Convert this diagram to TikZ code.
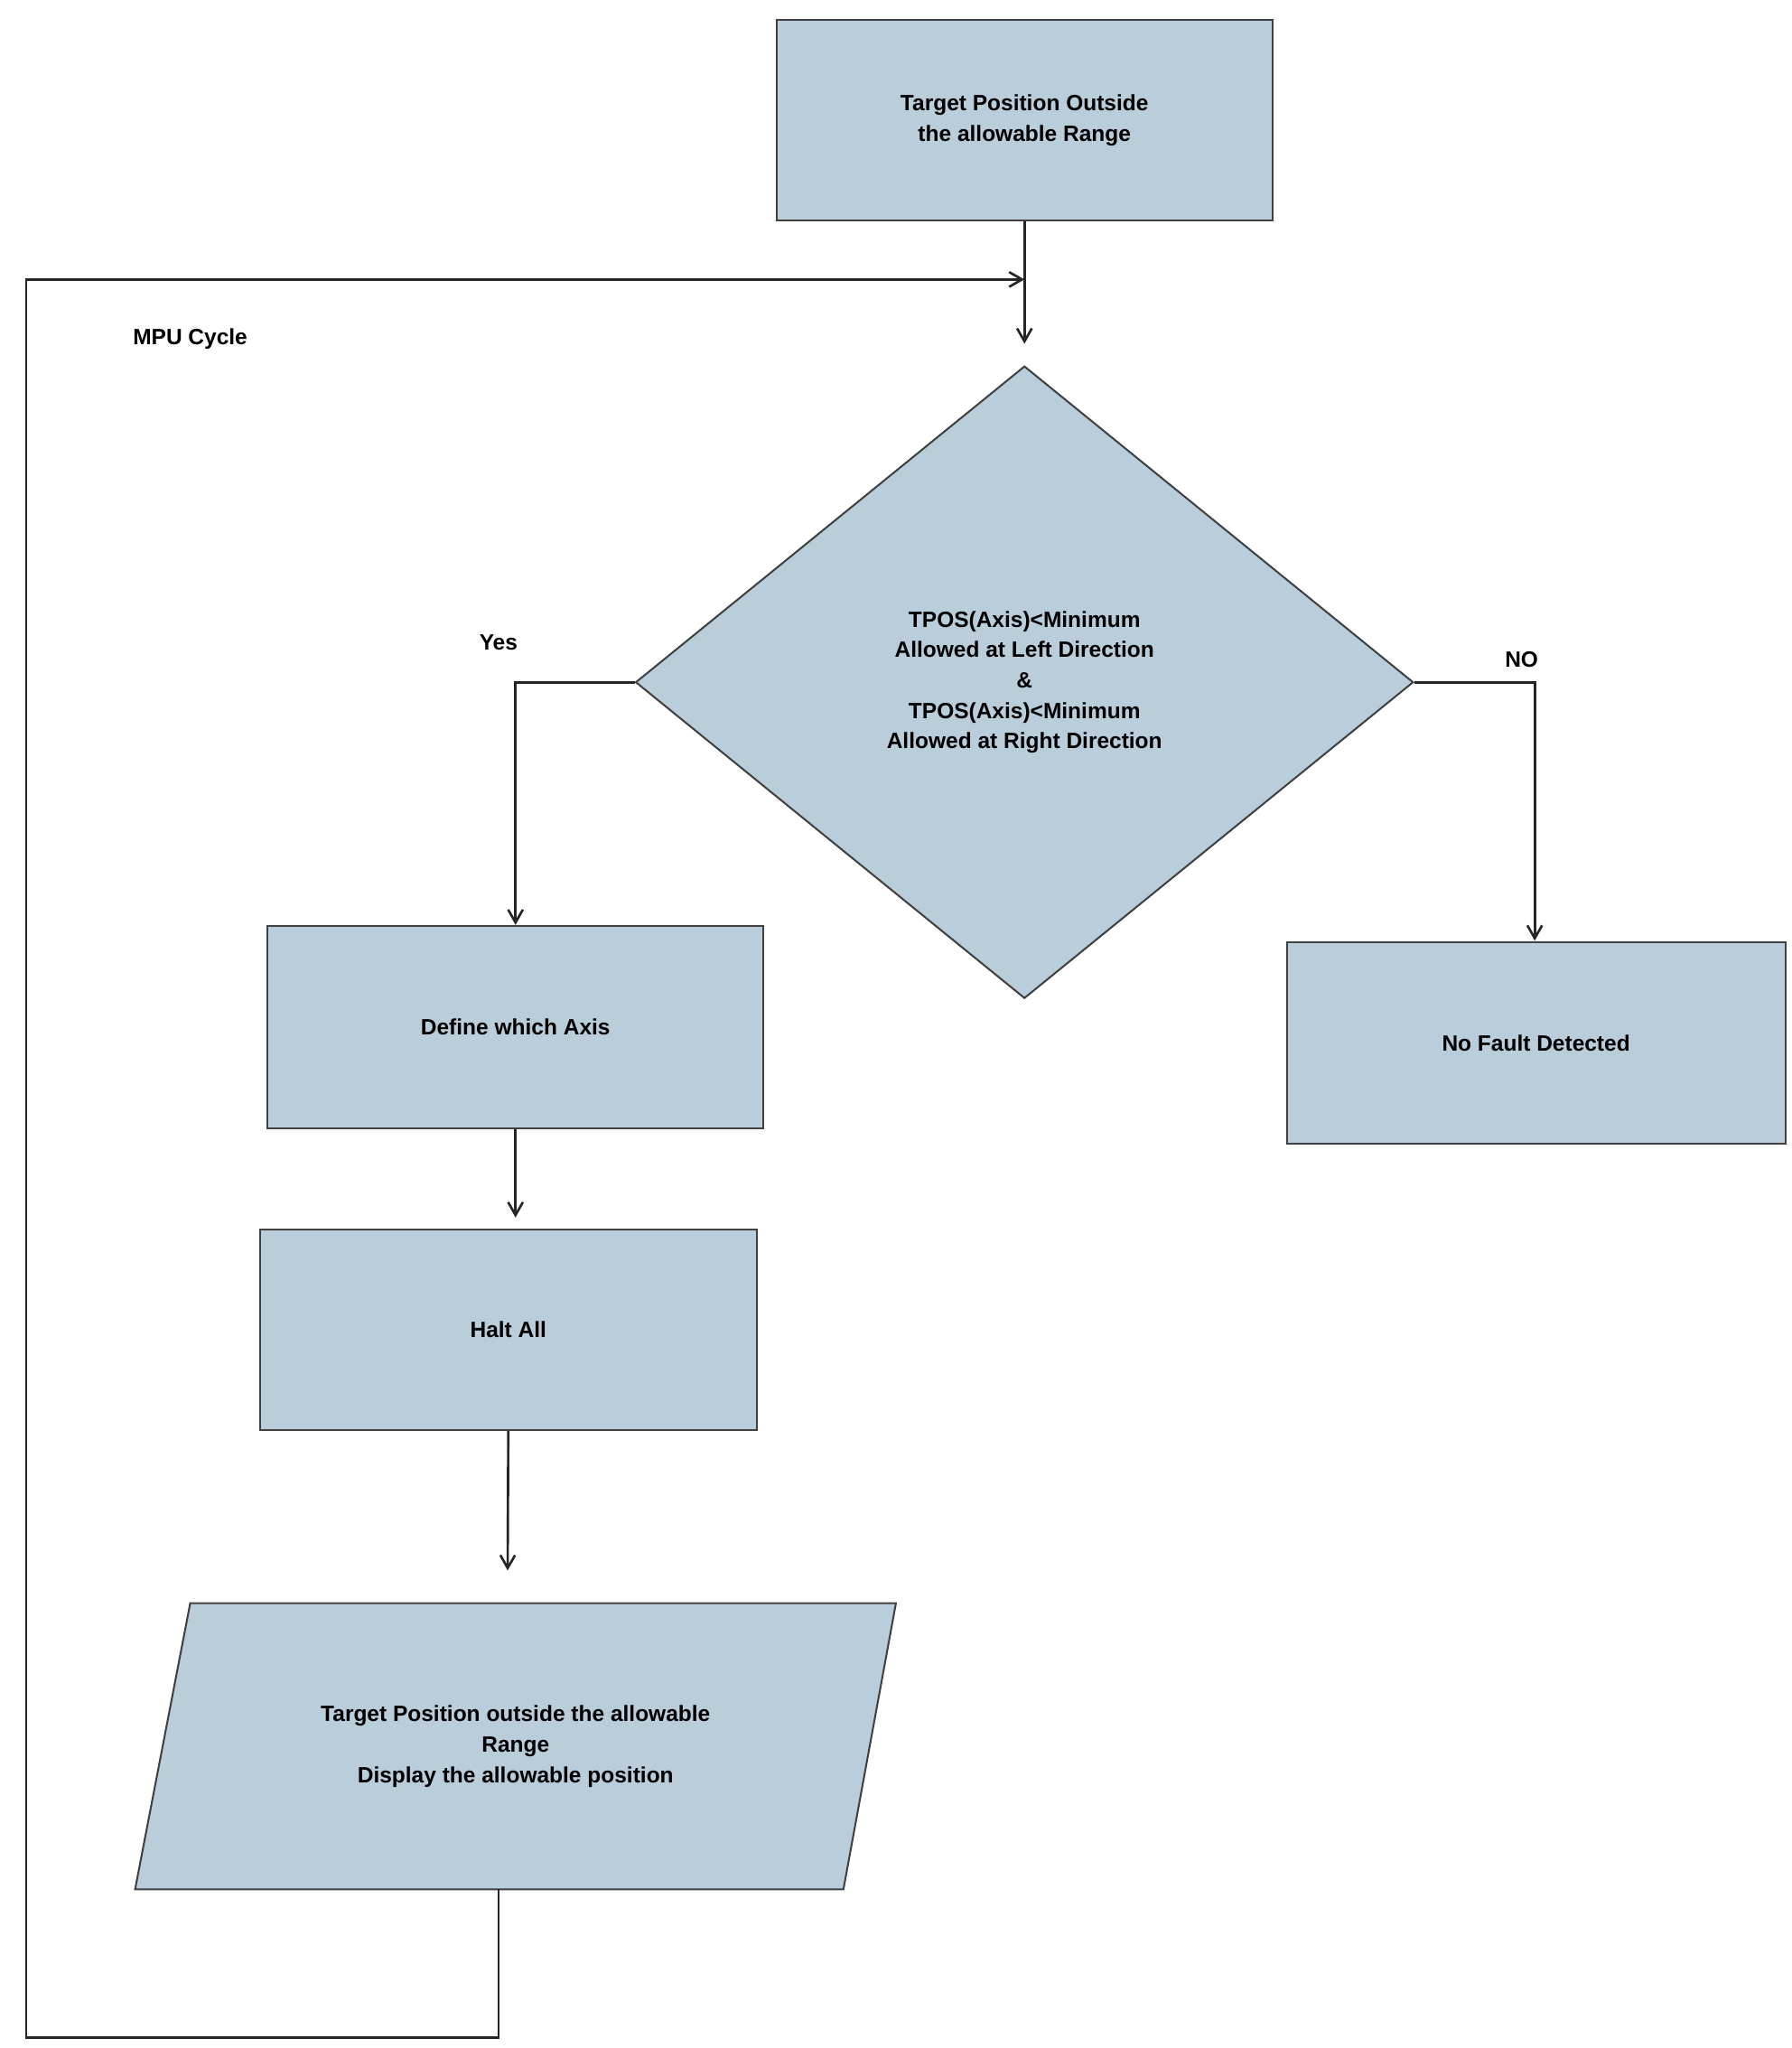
\documentclass[tikz,border=0pt]{standalone}
\usepackage{fontspec}
\setmainfont{Liberation Sans}
\usetikzlibrary{shapes.geometric,arrows.meta}
\begin{document}
\begin{tikzpicture}[x=0.05cm,y=-0.05cm,
  box/.style={draw=black!75,line width=2pt,fill=boxc,inner sep=0pt,align=center,font=\fontsize{24}{33}\selectfont\bfseries},
  lbl/.style={font=\fontsize{24}{33}\selectfont\bfseries},
  ln/.style={line width=2.6pt,black!85},
  arr/.style={ln,-{Straight Barb[length=14pt,width=16pt,line width=2.6pt]}}]
\definecolor{boxc}{RGB}{185,205,219}
\useasboundingbox (0,0) rectangle (1366,1561);
\node[box,minimum width=378\pgflinewidth,minimum width=18.9cm,minimum height=7.65cm] (top) at (781,91.5) {Target Position Outside\\the allowable Range};
\node[box,diamond,minimum width=29.65cm,minimum height=24.1cm] (dec) at (781,520) {TPOS(Axis)<Minimum\\Allowed at Left Direction\\\&\\TPOS(Axis)<Minimum\\Allowed at Right Direction};
\node[box,minimum width=18.9cm,minimum height=7.7cm] (def) at (393,783) {Define which Axis};
\node[box,minimum width=19cm,minimum height=7.7cm] (nof) at (1171,795) {No Fault Detected};
\node[box,minimum width=18.95cm,minimum height=7.65cm] (halt) at (387.5,1013.5) {Halt All};
\draw[box] (145,1222) -- (683,1222) -- (643,1440) -- (103,1440) -- cycle;
\node[lbl,align=center] (out) at (393,1331) {Target Position outside the allowable\\Range\\Display the allowable position};
\coordinate (outb) at (380,1440);
\coordinate (j) at (781,213);
\node[lbl] (mpu) at (145,258) {MPU Cycle};
\node[lbl] (yes) at (380,490) {Yes};
\node[lbl] (no) at (1160,503) {NO};
\draw[ln] (top.south) -- (j);
\draw[arr] (j) -- (781,262);
\draw[arr] (outb) -- (380,1553) -- (20,1553) -- (20,213) -- (j);
\draw[arr] (dec.west) -- (393,520) -- (393,705);
\draw[arr] (dec.east) -- (1170,520) -- (1170,717);
\draw[arr] (def.south) -- (393,928);
\draw[arr] (halt.south) -- (387,1197);
\end{tikzpicture}
\end{document}
